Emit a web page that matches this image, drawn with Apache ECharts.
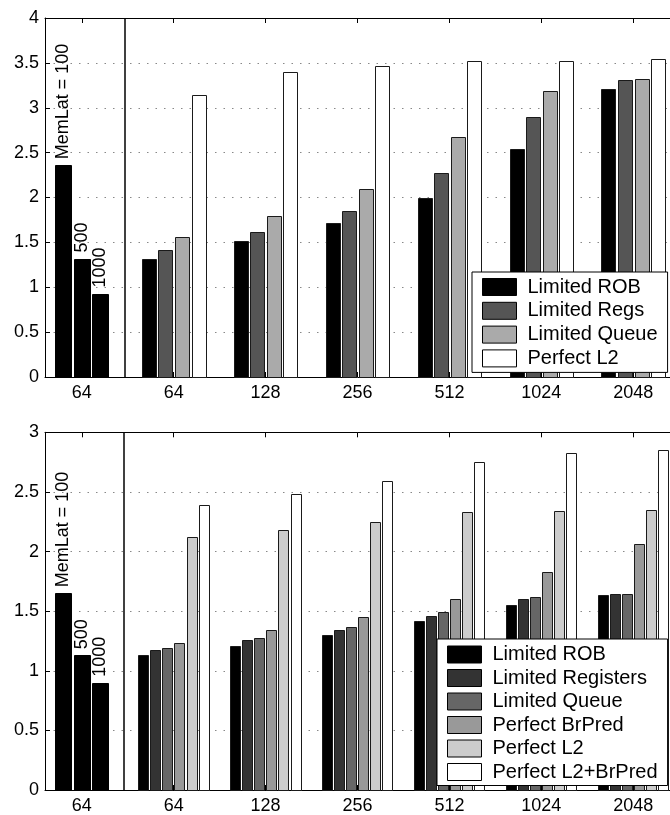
<!DOCTYPE html>
<html>
<head>
<meta charset="utf-8">
<script src="https://cdn.jsdelivr.net/npm/echarts@6/dist/echarts.min.js"></script>
<style>
html,body{margin:0;padding:0;background:#fff;}
#chart{width:670px;height:815px;}
</style>
</head>
<body>
<div id="chart"></div>
<script>
// ---------- data ----------
const xCategories = ['64', '64', '128', '256', '512', '1024', '2048'];
const memLatLabels = ['MemLat = 100', '500', '1000'];

// top panel
const topMemLat = [2.36, 1.32, 0.93];
const topNames = ['Limited ROB', 'Limited Regs', 'Limited Queue', 'Perfect L2'];
const topROB   = [1.32, 1.51, 1.72, 2.00, 2.54, 3.21];
const topRegs  = [1.42, 1.62, 1.85, 2.27, 2.90, 3.31];
const topQueue = [1.56, 1.79, 2.10, 2.67, 3.19, 3.32];
const topL2    = [3.14, 3.40, 3.47, 3.52, 3.52, 3.54];
const topColors = ['#000000', '#555555', '#aaaaaa', '#ffffff'];
const topYMax = 4;

// bottom panel
const botMemLat = [1.65, 1.13, 0.90];
const botNames = ['Limited ROB', 'Limited Registers', 'Limited Queue', 'Perfect BrPred', 'Perfect L2', 'Perfect L2+BrPred'];
const botROB    = [1.13, 1.21, 1.30, 1.415, 1.555, 1.635];
const botRegs   = [1.175, 1.255, 1.34, 1.46, 1.60, 1.64];
const botQueue  = [1.19, 1.275, 1.37, 1.495, 1.615, 1.645];
const botBrPred = [1.23, 1.34, 1.45, 1.605, 1.825, 2.06];
const botL2     = [2.12, 2.18, 2.25, 2.33, 2.34, 2.35];
const botL2Br   = [2.39, 2.48, 2.59, 2.75, 2.83, 2.85];
const botColors = ['#000000', '#333333', '#666666', '#999999', '#cccccc', '#ffffff'];
const botYMax = 3;

const yInterval = 0.5;
const tickPositions = [1, 2, 3, 4, 5, 6, 7];

// ---------- styling ----------
const FONT = '"Liberation Sans", Arial, Helvetica, sans-serif';
const FS = 18;

function groupedBar(name, gridIdx, values, j, n, spacing, width, color) {
  return {
    type: 'custom',
    name: name,
    xAxisIndex: gridIdx * 2,
    yAxisIndex: gridIdx,
    itemStyle: { color: color, borderColor: '#000', borderWidth: 1 },
    data: values.map((v, i) => [i + 2, v]),
    renderItem: function (params, api) {
      const x = api.value(0), y = api.value(1);
      const c = x + (j - (n - 1) / 2) * spacing;
      const p0 = api.coord([c - width / 2, y]);
      const p1 = api.coord([c + width / 2, 0]);
      return {
        type: 'rect',
        shape: { x: Math.round(p0[0]) + 0.5, y: Math.round(p0[1]) + 0.5,
                 width: Math.round(p1[0] - p0[0]), height: Math.round(p1[1]) - Math.round(p0[1]) },
        style: { fill: color, stroke: '#1a1a1a', lineWidth: 1 }
      };
    }
  };
}

function memLatSeries(gridIdx, values, dividerX) {
  const n = values.length, spacing = 0.2, width = 0.175;
  return {
    type: 'custom',
    name: 'memlat' + gridIdx,
    xAxisIndex: gridIdx * 2,
    yAxisIndex: gridIdx,
    data: values.map((v) => [1, v]),
    renderItem: function (params, api) {
      const j = params.dataIndex;
      const x = api.value(0), y = api.value(1);
      const c = x + (j - (n - 1) / 2) * spacing;
      const p0 = api.coord([c - width / 2, y]);
      const p1 = api.coord([c + width / 2, 0]);
      const pc = api.coord([c, y]);
      return {
        type: 'group',
        children: [
          { type: 'rect',
            shape: { x: Math.round(p0[0]) + 0.5, y: Math.round(p0[1]) + 0.5,
                     width: Math.round(p1[0] - p0[0]), height: Math.round(p1[1]) - Math.round(p0[1]) },
            style: { fill: '#000', stroke: '#000', lineWidth: 1 } },
          { type: 'text', x: pc[0], y: pc[1] - 6, rotation: Math.PI / 2,
            style: { text: memLatLabels[j], fill: '#000', fontSize: FS, fontFamily: FONT,
                     align: 'left', verticalAlign: 'middle' } }
        ]
      };
    },
    markLine: {
      silent: true, symbol: 'none', animation: false,
      label: { show: false },
      lineStyle: { color: '#000', width: 1.5, type: 'solid' },
      data: [{ xAxis: dividerX }]
    }
  };
}

function xAxisPair(gridIdx) {
  const common = {
    type: 'value', gridIndex: gridIdx, min: 0.6, max: 7.4,
    splitLine: { show: false },
    axisLine: { show: true, onZero: false, lineStyle: { color: '#000', width: 1 } },
    axisTick: { show: true, inside: true, length: 5, customValues: tickPositions,
                lineStyle: { color: '#000', width: 1 } }
  };
  return [
    Object.assign({}, common, {
      position: 'bottom',
      axisLabel: { show: true, customValues: tickPositions, margin: 7,
                   formatter: (v) => xCategories[Math.round(v) - 1],
                   color: '#000', fontSize: FS, fontFamily: FONT }
    }),
    Object.assign({}, common, {
      position: 'top',
      axisLabel: { show: false }
    })
  ];
}

function yAxis(gridIdx, max) {
  return {
    type: 'value', gridIndex: gridIdx, min: 0, max: max, interval: yInterval,
    axisLine: { show: true, lineStyle: { color: '#000', width: 1 } },
    axisTick: { show: true, inside: true, length: 5, lineStyle: { color: '#000' } },
    axisLabel: { color: '#000', fontSize: FS, fontFamily: FONT, margin: 6 },
    splitLine: { show: true, lineStyle: { color: '#888', width: 1, type: [1.5, 7] } }
  };
}

function legend(names, colors, left, top, gap, padding) {
  return {
    orient: 'vertical', left: left, top: top,
    icon: 'rect', itemWidth: 34, itemHeight: 17, itemGap: gap,
    padding: padding, backgroundColor: '#fff', borderColor: '#000', borderWidth: 1,
    selectedMode: false,
    textStyle: { fontSize: 20, fontFamily: FONT, color: '#000', lineHeight: 17, padding: [0, 0, 0, 6] },
    data: names.map((nm, i) => ({
      name: nm,
      itemStyle: { color: colors[i], borderColor: '#000', borderWidth: 1 }
    }))
  };
}

const topSeriesValues = [topROB, topRegs, topQueue, topL2];
const botSeriesValues = [botROB, botRegs, botQueue, botBrPred, botL2, botL2Br];

const series = [memLatSeries(0, topMemLat, 1.47), memLatSeries(1, botMemLat, 1.455)];
topSeriesValues.forEach((vals, j) => {
  series.push(groupedBar(topNames[j], 0, vals, j, 4, 0.18, 0.152, topColors[j]));
});
botSeriesValues.forEach((vals, j) => {
  series.push(groupedBar(botNames[j], 1, vals, j, 6, 0.1315, 0.114, botColors[j]));
});

const chart = echarts.init(document.getElementById('chart'), null, { renderer: 'canvas' });
chart.setOption({
  animation: false,
  backgroundColor: '#fff',
  textStyle: { fontFamily: FONT },
  grid: [
    { left: 45, top: 18, width: 625.6, height: 359, show: false },
    { left: 45, top: 432.3, width: 625.6, height: 357.7, show: false }
  ],
  xAxis: xAxisPair(0).concat(xAxisPair(1)),
  yAxis: [yAxis(0, topYMax), yAxis(1, botYMax)],
  legend: [
    legend(topNames, topColors, 472, 272, 3.8, [5, 10, 4, 10]),
    legend(botNames, botColors, 437, 639, 3.5, [5.5, 10, 3.5, 10])
  ],
  series: series
});
</script>
</body>
</html>
